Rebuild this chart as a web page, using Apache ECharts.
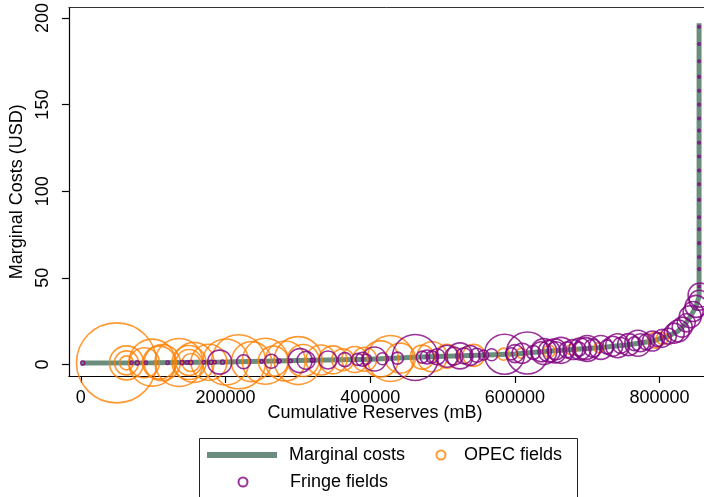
<!DOCTYPE html>
<html>
<head>
<meta charset="utf-8">
<script src="https://cdn.jsdelivr.net/npm/echarts@6/dist/echarts.min.js"></script>
<style>
  html, body { margin: 0; padding: 0; background: #fff; }
  #chart { width: 704px; height: 497px; }
</style>
</head>
<body>
<div id="chart"></div>
<script>
// Axis ticks
const xTicks = [0, 200000, 400000, 600000, 800000];
const yTicks = [0, 50, 100, 150, 200];

// Marginal cost curve: cumulative reserves (mB) vs cost (USD)
const mcCum  = [0, 100000, 200000, 300000, 400000, 470000, 550000, 600000, 640000, 680000,
                720000, 760000, 790000, 810000, 825000, 835000, 843000, 850000, 854600, 854600];
const mcCost = [0.8, 1.0, 1.4, 2.2, 3.0, 4.2, 5.3, 6.0, 7.4, 8.6,
                9.8, 11.5, 13.5, 16, 19, 23, 28, 33, 39, 197];

// OPEC fields: cumulative position (mB), cost (USD), field reserves (mB)
const opecCum  = [49400, 63100, 63100, 63100, 87800, 98800, 108400, 112500, 135800, 149500,
                  149500, 152300, 156400, 177000, 200300, 218100, 235900, 255100, 266100, 282600,
                  300400, 307300, 332000, 348400, 362100, 378600, 392300, 414300, 428000, 441700,
                  471900, 485600, 506200, 543200, 584300, 609000, 647500, 677600, 716000, 794200,
                  803800];
const opecCost = [0.9, 0.9, 0.9, 0.9, 0.95, 1.0, 1.0, 1.0, 1.1, 1.1,
                  1.1, 1.1, 1.15, 1.2, 1.4, 1.5, 1.6, 1.8, 1.9, 2.0,
                  2.2, 2.25, 2.5, 2.6, 2.7, 2.8, 2.95, 3.2, 3.4, 3.6,
                  4.2, 4.4, 4.7, 5.2, 5.9, 6.5, 7.6, 8.5, 9.7, 14,
                  15];
const opecRes  = [57600, 10400, 5180, 1760, 8100, 19880, 9800, 11660, 20740, 10400,
                  6080, 2920, 14400, 11660, 19040, 26240, 14400, 19040, 8100, 14400,
                  20740, 9220, 8100, 7060, 4360, 6080, 5180, 11660, 19040, 8100,
                  5180, 8100, 5180, 4360, 1300, 900, 1300, 900, 900, 2300,
                  1300];

// Fringe (non-OPEC) fields: cumulative position (mB), cost (USD), field reserves (mB)
const fringeCum  = [2700, 70000, 78000, 90000, 120000, 140000, 147000, 152000, 170000, 180000,
                    185000, 192000, 196000, 225000, 250000, 263400, 274000, 290000, 303100, 311400,
                    320000, 341600, 364900, 382700, 389600, 395000, 406000, 417000, 437600, 462300,
                    471900, 478700, 485600, 492400, 506200, 515800, 524000, 529500, 537700, 547300,
                    556900, 567900, 585700, 595300, 600000, 610000, 617300, 625500, 636500, 640000,
                    647500, 655000, 657000, 663900, 672100, 680400, 688600, 690000, 698200, 700000,
                    707800, 718800, 727000, 735200, 742000, 746200, 757200, 765400, 770000, 773600,
                    781900, 790100, 797000, 803800, 812100, 820300, 825800, 831300,
                    836800, 842300, 846400, 850500, 854600, 856000,
                    854600, 854600, 854600, 854600, 854600, 854600, 854600, 854600, 854600, 854600,
                    854600, 854600, 854600, 854600, 854600, 854600, 854600, 854600, 854600];
const fringeCost = [0.8, 0.9, 0.9, 0.95, 1.0, 1.05, 1.1, 1.1, 1.2, 1.25,
                    1.3, 1.3, 1.3, 1.5, 1.7, 1.8, 1.9, 2.0, 2.2, 2.3,
                    2.4, 2.55, 2.75, 2.9, 2.95, 3.0, 3.1, 3.25, 3.6, 4.0,
                    4.2, 4.3, 4.35, 4.45, 4.7, 4.8, 4.9, 4.95, 5.1, 5.25,
                    5.4, 5.6, 5.9, 6.1, 6.2, 6.4, 6.6, 6.9, 7.3, 7.4,
                    7.6, 7.8, 7.9, 8.1, 8.4, 8.6, 8.8, 8.9, 9.1, 9.2,
                    9.4, 9.8, 10.1, 10.5, 10.8, 11.0, 11.4, 11.9, 12.2, 12.5,
                    13.0, 13.5, 14.3, 15.0, 16.3, 18.0, 19.3, 21.5,
                    24, 27.5, 30.5, 33.5, 37, 40,
                    45, 55, 62, 70, 78, 85, 95, 104, 112, 120,
                    128, 135, 142, 150, 158, 166, 175, 185, 195];
const fringeRes  = [144, 100, 144, 100, 100, 144, 100, 144, 100, 144,
                    100, 5180, 144, 1760, 100, 1760, 144, 100, 5180, 2920,
                    144, 2920, 1760, 1300, 1760, 900, 5180, 1300, 1300, 19040,
                    1300, 1760, 1300, 2300, 4360, 2920, 6080, 2300, 3600, 1760,
                    900, 1300, 14400, 1300, 2920, 3600, 15880, 1760, 3600, 6080,
                    4360, 5180, 2920, 6080, 2300, 3600, 1760, 4360, 4360, 6080,
                    2920, 5180, 1760, 3600, 5180, 2300, 4360, 1760, 6080, 2920,
                    2300, 3600, 1760, 2920, 2300, 3600, 4360, 3600,
                    2920, 4360, 3600, 4360, 3600, 5180,
                    56, 56, 56, 56, 56, 56, 56, 56, 56, 56,
                    56, 56, 56, 56, 56, 56, 56, 56, 56];

const FONT = 'Liberation Sans, Arial, sans-serif';
const LINE_COLOR = '#6a8d7e';
const OPEC_COLOR = '#ff8000';
const FRINGE_COLOR = '#800080';
const X_MIN = -16460, X_MAX = 861400;

const zip3 = (a, b, c) => a.map((v, i) => [v, b[i], c[i]]);
const bubbleSize = v => Math.sqrt(v[2]) / 3;
const plain = v => String(v);

const chart = echarts.init(document.getElementById('chart'), null, { renderer: 'canvas' });

chart.setOption({
  animation: false,
  backgroundColor: '#fff',
  textStyle: { fontFamily: FONT, color: '#000' },
  grid: { left: 64, top: 5, right: 0, bottom: 121, show: false },
  xAxis: [
    {
      type: 'value',
      min: X_MIN, max: X_MAX,
      axisLine: { show: true, onZero: false, lineStyle: { color: '#000', width: 1.2 } },
      axisTick: { show: true, length: 7, lineStyle: { color: '#000', width: 1.2 }, customValues: xTicks },
      axisLabel: { fontSize: 18, color: '#000', fontFamily: FONT, margin: 13, customValues: xTicks, formatter: plain },
      splitLine: { show: false }
    },
    {
      // plot region outline along the top edge
      type: 'value', position: 'top',
      min: X_MIN, max: X_MAX,
      axisLine: { show: true, onZero: false, lineStyle: { color: '#333', width: 1 } },
      axisTick: { show: false }, axisLabel: { show: false }, splitLine: { show: false }
    }
  ],
  yAxis: {
    type: 'value',
    min: -6.7, max: 206.1,
    name: 'Marginal Costs (USD)',
    nameLocation: 'middle',
    nameGap: 37,
    nameTextStyle: { fontSize: 18, color: '#000', fontFamily: FONT },
    axisLine: { show: true, onZero: false, lineStyle: { color: '#000', width: 1.2 } },
    axisTick: { show: true, length: 7, lineStyle: { color: '#000', width: 1.2 }, customValues: yTicks },
    axisLabel: { fontSize: 18, color: '#000', fontFamily: FONT, rotate: 90, margin: 17, customValues: yTicks, formatter: plain },
    splitLine: { show: false }
  },
  legend: [
    {
      data: ['Marginal costs'], left: 207, top: 446, padding: 0,
      itemWidth: 70, itemHeight: 6, icon: 'rect',
      textStyle: { fontSize: 18, color: '#000', fontFamily: FONT, padding: [0, 0, 0, 7] }
    },
    {
      data: ['OPEC fields'], left: 435.5, top: 446, padding: 0,
      itemWidth: 36, itemHeight: 9, icon: 'circle',
      textStyle: { fontSize: 18, color: '#000', fontFamily: FONT }
    },
    {
      data: ['Fringe fields'], left: 237.5, top: 473, padding: 0,
      itemWidth: 70, itemHeight: 9, icon: 'circle',
      textStyle: { fontSize: 18, color: '#000', fontFamily: FONT, padding: [0, 0, 0, 7] }
    }
  ],
  graphic: [
    {
      type: 'text', x: 375, y: 413,
      style: {
        text: 'Cumulative Reserves (mB)', fontSize: 18, fontFamily: FONT, fill: '#000',
        align: 'center', verticalAlign: 'middle'
      }
    },
    {
      type: 'rect', x: 0, y: 0, z: -1,
      shape: { x: 199.5, y: 438.5, width: 378, height: 80 },
      style: { fill: 'transparent', stroke: '#222', lineWidth: 1 }
    }
  ],
  series: [
    {
      name: 'Marginal costs',
      type: 'line',
      data: mcCum.map((x, i) => [x, mcCost[i]]),
      showSymbol: false,
      color: LINE_COLOR,
      itemStyle: { color: LINE_COLOR },
      lineStyle: { color: LINE_COLOR, width: 5 },
      clip: false,
      z: 2
    },
    {
      name: 'OPEC fields',
      type: 'scatter',
      data: zip3(opecCum, opecCost, opecRes),
      symbol: 'circle',
      symbolSize: bubbleSize,
      itemStyle: { color: 'rgba(0,0,0,0)', borderColor: OPEC_COLOR, borderWidth: 1.6 },
      emphasis: { disabled: true },
      clip: false,
      z: 3
    },
    {
      name: 'Fringe fields',
      type: 'scatter',
      data: zip3(fringeCum, fringeCost, fringeRes),
      symbol: 'circle',
      symbolSize: bubbleSize,
      itemStyle: { color: 'rgba(0,0,0,0)', borderColor: FRINGE_COLOR, borderWidth: 1.6 },
      emphasis: { disabled: true },
      clip: false,
      z: 4
    }
  ]
});
</script>
</body>
</html>
